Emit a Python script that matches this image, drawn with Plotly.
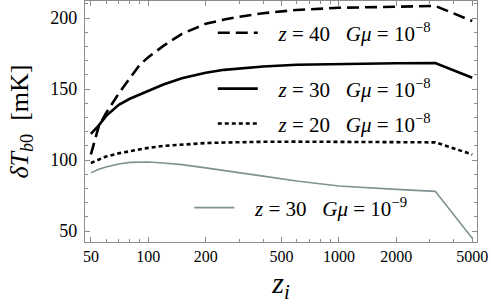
import plotly.graph_objects as go

# ---- data ----
zi = [50, 55, 60, 70, 80, 90, 100, 120, 150, 200, 250, 300, 400, 600, 1000, 2000, 3200, 5000]
T_z40 = [104, 124, 133, 147, 157.7, 167, 172.5, 180.5, 189, 196, 199, 201, 203.5, 205.8, 207.3, 208.3, 208.6, 198]
T_z30 = [118.5, 124.5, 131, 139, 143.2, 146.3, 149, 153.3, 157.7, 161.6, 163.6, 164.6, 166, 167.2, 167.8, 168.2, 168.4, 158]
T_z20 = [98, 100.5, 102.5, 104.8, 106.3, 107.5, 108.6, 110, 111, 112, 112.4, 112.7, 112.9, 113, 113, 112.8, 112.5, 104]
T_z30_g9 = [91, 93.5, 95.2, 97.3, 98.4, 98.8, 98.7, 98, 96.8, 94.5, 92.5, 91.3, 88.7, 85.3, 81.8, 79.4, 78, 45]

SP = "\u00a0"
def label(z, exp):
    return (SP * 3 + "<i>z</i>" + SP + "=" + SP + z + SP * 3 + "<i>G\u03bc</i>" + SP + "=" + SP
            + "10<sup>\u2212" + exp + "</sup>")

names = [label("40", "8"), label("30", "8"), label("20", "8"), label("30", "9")]

x_tickvals = [50, 100, 200, 500, 1000, 2000, 5000]
x_minor = [60, 70, 80, 90, 300, 400, 600, 700, 800, 900, 3000, 4000]
y_tickvals = [50, 100, 150, 200]

FONT = "Liberation Serif"
FRAME = "#8c8c8c"

fig = go.Figure()
series = [
    (T_z40, dict(color="black", width=2.6, dash="12px,6px"), "legend"),
    (T_z30, dict(color="black", width=2.6), "legend2"),
    (T_z20, dict(color="black", width=2.6, dash="4px,3px"), "legend3"),
    (T_z30_g9, dict(color="#7f9193", width=1.6), "legend4"),
]
for (ys, line, lg), nm in zip(series, names):
    fig.add_trace(go.Scatter(x=zi, y=ys, mode="lines", line=line, name=nm, legend=lg, showlegend=True))

leg_common = dict(bgcolor="rgba(0,0,0,0)", xanchor="left", yanchor="middle", itemwidth=40,
                  font=dict(family=FONT, size=21, color="black"))
fig.update_layout(
    width=491, height=307,
    margin=dict(l=85, r=14, t=1, b=65),
    plot_bgcolor="white", paper_bgcolor="white",
    showlegend=True,
    legend=dict(x=0.326, y=0.867, **leg_common),
    legend2=dict(x=0.326, y=0.635, **leg_common),
    legend3=dict(x=0.326, y=0.49, **leg_common),
    legend4=dict(x=0.266, y=0.141, **leg_common),
)
fig.update_xaxes(
    type="log", range=[1.668, 3.724], automargin=False,
    tickvals=x_tickvals, ticktext=[str(v) for v in x_tickvals],
    ticks="inside", ticklen=5, tickcolor=FRAME, tickwidth=1,
    showline=True, linecolor=FRAME, linewidth=1.3, mirror="ticks",
    showgrid=False, zeroline=False,
    tickfont=dict(family=FONT, size=16, color="black"),
    ticklabelstandoff=0,
    minor=dict(tickvals=x_minor, ticks="inside", ticklen=3, tickcolor=FRAME, showgrid=False),
    title=dict(text="<i>z</i><sub><i>i</i></sub>", font=dict(family=FONT, size=30, color="black"), standoff=7),
)
fig.update_yaxes(
    range=[42.3, 212.1], automargin=False,
    tickvals=y_tickvals,
    ticks="inside", ticklen=5, tickcolor=FRAME, tickwidth=1,
    showline=True, linecolor=FRAME, linewidth=1.3, mirror="ticks",
    showgrid=False, zeroline=False,
    tickfont=dict(family=FONT, size=18, color="black"),
    ticklabelstandoff=3,
    minor=dict(dtick=10, ticks="inside", ticklen=3, tickcolor=FRAME, showgrid=False),
    title=dict(text="<i>\u03b4T</i><sub><i>b</i>0</sub>  [mK]", font=dict(family=FONT, size=26, color="black"), standoff=14),
)
fig.write_html("out.html", config={"displayModeBar": False},
               post_script="document.body.style.margin='0';")
